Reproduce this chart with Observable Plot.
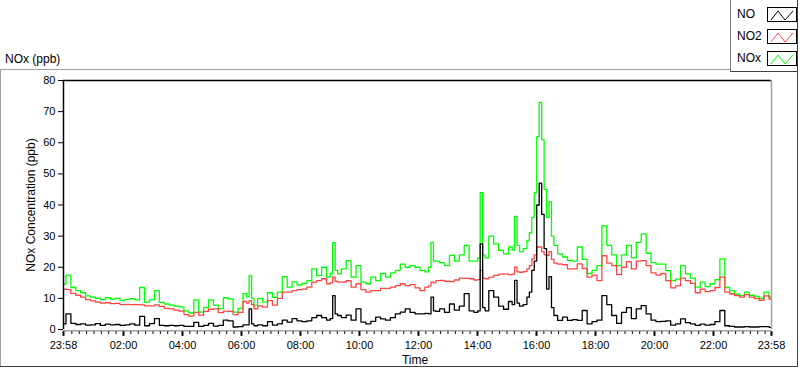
<!DOCTYPE html>
<html><head><meta charset="utf-8">
<script src="https://cdn.jsdelivr.net/npm/d3@7"></script>
<script src="https://cdn.jsdelivr.net/npm/@observablehq/plot@0.6"></script>
<style>
html,body{margin:0;padding:0;background:#fff;}
body{width:800px;height:369px;position:relative;overflow:hidden;font-family:"Liberation Sans",Arial,sans-serif;color:#000;}
.abs{position:absolute;}
.lg{position:absolute;font-size:12px;line-height:14px;}
.sw{position:absolute;left:767px;width:28px;height:13px;border:1px solid #000;background:#fff;}
</style></head><body>
<!-- panel borders -->
<div class="abs" style="left:0;top:69px;width:730px;height:1px;background:#a0a0a0"></div>
<div class="abs" style="left:0;top:69px;width:1px;height:298px;background:#a0a0a0"></div>
<div class="abs" style="left:0;top:366px;width:798px;height:1px;background:#404040"></div>
<div class="abs" style="left:797px;top:69px;width:1px;height:298px;background:#404040"></div>
<!-- legend -->
<div class="abs" style="left:730px;top:0;width:66px;height:71px;border-left:1px solid #808080;border-right:1px solid #404040;border-bottom:1px solid #404040;background:#fff"></div>
<div id="legend"></div>
<div class="abs" style="left:5px;top:52px;font-size:12px;line-height:14px;">NOx (ppb)</div>
<div class="abs" style="left:-69px;top:198px;width:200px;text-align:center;font-size:12px;line-height:14px;transform:rotate(-90deg);">NOx Concentration (ppb)</div>
<div class="abs" style="left:365px;top:353px;width:100px;text-align:center;font-size:12px;line-height:14px;">Time</div>
<div id="chart" class="abs" style="left:0;top:70px;"></div>
<script>
// minutes after 23:58 (start of record)
const minutes = [0,10,20,30,40,50,60,70,80,90,100,110,120,130,140,150,160,170,180,190,200,210,220,230,240,250,260,270,280,290,300,310,320,330,340,350,360,370,
  375,380,385,
  390,400,410,420,430,440,450,460,470,480,490,500,510,520,530,540,
  545,550,555,
  560,570,580,590,600,610,620,630,640,650,660,670,680,690,700,710,720,730,740,
  745,750,755,
  760,770,780,790,800,810,820,830,840,
  845,850,855,
  860,870,880,890,900,910,
  915,920,925,
  930,940,945,950,955,960,965,970,975,980,985,990,995,1000,1010,1020,1030,1040,1050,1060,1070,1080,1090,1100,1110,1120,1130,1140,1150,1160,1170,1180,1190,1200,1210,1220,1230,1240,1250,1260,1270,1280,1290,1300,1310,1320,1330,1340,1350,1360,1370,1380,1390,1400,1410,1420,1430,1440];
const NO = [1.8,5.0,2.0,1.6,1.8,1.4,1.5,1.9,1.3,1.7,1.5,1.6,1.3,1.5,1.8,1.4,4.2,1.2,1.9,3.5,1.3,1.2,1.3,1.2,1.3,1.0,1.0,2.3,1.0,1.3,2.0,1.1,1.3,3.0,2.8,0.8,0.9,1.5,
  1.5,6.6,1.8,
  1.2,1.5,1.2,2.5,1.4,1.8,3.0,2.4,3.5,2.8,2.5,2.8,3.8,4.5,3.8,3.0,
  3.5,10.9,5.0,
  4.5,3.8,4.6,3.0,6.6,2.4,1.8,2.6,4.0,3.4,3.0,3.8,5.0,5.6,6.6,5.5,5.0,5.0,5.2,
  5.0,10.4,6.0,
  5.8,6.6,5.5,8.2,6.2,7.5,11.5,6.0,5.5,
  6.0,27.5,7.0,
  6.0,12.5,10.4,7.5,6.5,9.0,
  8.0,15.8,8.5,
  7.5,8.0,10.4,12.0,19.0,22.0,40.0,47.0,37.0,26.0,13.0,17.0,7.0,4.5,2.9,4.0,2.9,3.2,2.9,6.1,1.8,2.5,3.0,10.9,8.0,4.5,2.0,5.5,7.0,3.5,6.6,7.7,5.0,3.0,2.5,2.6,2.8,1.4,1.8,3.4,2.2,1.8,1.3,1.7,1.4,1.6,2.5,6.1,1.2,1.0,0.8,0.8,0.9,0.8,0.8,0.9,0.9,0.7];
const NO2 = [13.0,12.8,11.6,11.0,10.4,9.6,9.2,8.8,8.5,8.6,8.3,8.4,8.0,8.1,8.0,8.0,7.9,7.6,7.6,7.9,7.4,6.8,6.6,6.2,5.9,4.8,4.3,5.5,4.6,5.8,6.5,6.6,5.4,5.9,5.8,4.8,5.5,9.0,
  8.5,9.3,8.0,
  6.6,7.6,7.2,9.3,7.8,10.0,12.0,12.0,12.5,12.8,13.0,13.6,15.2,15.7,16.3,14.7,
  15.0,16.8,15.5,
  15.2,15.2,15.7,13.6,14.7,12.8,12.0,12.5,12.5,13.2,13.2,13.6,14.1,14.7,14.1,14.4,13.4,12.5,13.6,
  14.0,15.2,15.0,
  15.7,15.8,15.5,15.4,15.9,16.5,16.4,16.3,15.9,
  16.0,19.0,16.5,
  16.3,16.8,17.4,17.8,17.9,17.6,
  17.8,20.0,18.5,
  18.4,18.6,19.5,20.5,22.7,24.0,26.5,26.5,25.0,24.0,23.8,25.0,22.5,21.3,21.0,20.8,19.5,19.5,21.1,19.6,16.8,17.5,15.7,23.7,21.3,20.5,17.6,20.0,21.8,19.5,22.0,22.1,20.5,18.2,17.5,18.0,15.7,13.4,14.0,16.5,15.7,14.8,11.8,13.0,12.2,12.5,13.5,16.8,12.0,11.4,10.9,10.4,11.2,10.4,9.9,9.4,10.8,9.8];
const NOx = [14.6,17.5,13.5,12.5,11.8,10.8,10.4,10.0,9.6,10.2,9.8,10.0,9.3,9.7,9.9,9.5,13.5,8.8,9.6,12.5,8.7,8.2,7.8,7.5,7.3,6.0,5.3,9.5,5.6,7.0,9.5,7.8,6.7,10.2,9.8,5.6,6.8,11.5,
  10.5,17.3,10.0,
  7.8,10.0,8.8,11.8,10.3,12.0,17.0,13.6,15.3,14.3,14.8,15.7,19.5,17.3,20.0,16.8,
  18.0,27.9,19.0,
  17.9,19.5,22.1,16.8,20.5,15.2,14.7,16.8,15.7,18.0,16.8,18.2,19.0,21.0,20.0,20.5,20.0,19.0,18.5,
  20.0,28.0,22.0,
  22.0,21.5,20.5,23.8,22.0,24.0,27.0,22.0,22.0,
  23.0,44.0,24.0,
  23.0,30.0,27.5,25.4,24.3,26.5,
  25.5,36.3,27.0,
  25.0,26.0,28.6,31.0,36.0,44.0,62.0,73.0,61.0,45.0,36.0,41.0,30.0,27.0,24.3,23.3,22.2,22.0,26.5,22.5,18.0,19.0,20.5,33.4,27.0,24.0,20.5,24.0,27.0,23.0,28.0,30.7,24.5,21.5,21.0,21.0,18.9,15.7,16.2,20.5,17.9,16.5,13.6,15.2,13.8,14.7,16.0,22.7,13.5,12.5,11.4,10.9,12.0,11.0,10.6,10.0,12.0,10.4];
const seriesNames = ["NO","NO2","NOx"];
const seriesColors = ["#000000","#ff4444","#00ff00"];
const yTicks = [0,10,20,30,40,50,60,70,80];
const xTickMinutes = [0,122,242,362,482,602,722,842,962,1082,1202,1322,1440];

const start = Date.UTC(2020,0,1,23,58);
const toDate = m => new Date(start + m*60000);
const majorDates = xTickMinutes.map(toDate);
const minorDates = d3.utcMinute.every(15).range(toDate(1), toDate(1440))
  .filter(d => d.getUTCMinutes() !== 0 || d.getUTCHours() % 2 !== 0);
const seriesValues = [NO, NO2, NOx];

const lineFor = k => Plot.line(minutes, {
  x: m => toDate(m), y: (m, i) => seriesValues[k][i],
  stroke: seriesColors[k], strokeWidth: 1.3, curve: "step"
});

const chart = Plot.plot({
  width: 800, height: 299,
  marginLeft: 63, marginRight: 29, marginTop: 10, marginBottom: 40,
  style: {fontFamily: "'Liberation Sans', Arial, sans-serif", fontSize: "11px", color: "#000", background: "transparent"},
  x: {type: "utc", domain: [toDate(0), toDate(1440)], ticks: majorDates, tickFormat: d3.utcFormat("%H:%M"), tickSize: 0, tickPadding: 12, label: null},
  y: {domain: [0, 80], ticks: yTicks, tickSize: 5, tickPadding: 3, label: null},
  marks: [
    lineFor(2), lineFor(1), lineFor(0),
    Plot.ruleY([80], {stroke: "#000", strokeWidth: 1.5}),
    Plot.ruleX([toDate(0)], {y1: 0, y2: 80, stroke: "#000", strokeWidth: 1.5}),
    Plot.ruleX([toDate(1440)], {y1: 0, y2: 80, stroke: "#a0a0a0", strokeWidth: 1.5}),
    Plot.ruleY([-0.4], {stroke: "#a0a0a0", strokeWidth: 1.5}),
    Plot.ruleX(majorDates, {y1: -0.7, y2: -2.2, stroke: "#000", strokeWidth: 2}),
    Plot.ruleX(minorDates, {y1: -0.7, y2: -1.6, stroke: "#000", strokeWidth: 1})
  ]
});
document.getElementById("chart").appendChild(chart);

// legend
const lg = document.getElementById("legend");
const tops = [7, 29, 51];
seriesNames.forEach((name, k) => {
  const t = document.createElement("div");
  t.className = "lg"; t.style.left = "737px"; t.style.top = (tops[k]) + "px";
  t.textContent = name; lg.appendChild(t);
  const s = document.createElement("div");
  s.className = "sw"; s.style.top = tops[k] + "px";
  s.innerHTML = `<svg width="28" height="13"><polyline points="3,11 10,2 17,11 25,2" fill="none" stroke="${seriesColors[k]}" stroke-width="1"/></svg>`;
  lg.appendChild(s);
});
</script>
</body></html>
